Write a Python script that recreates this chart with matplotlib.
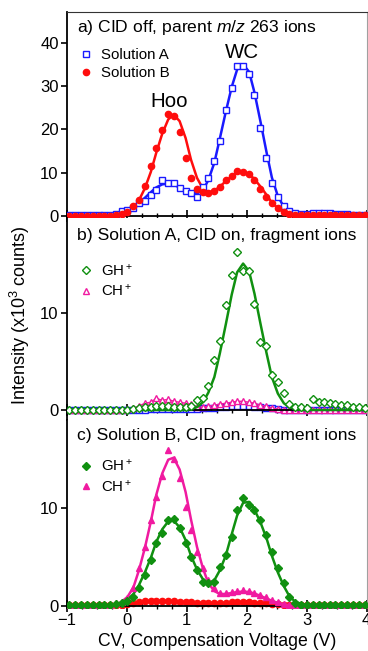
import numpy as np
import matplotlib
matplotlib.use("Agg")
import matplotlib.pyplot as plt
from matplotlib.ticker import MultipleLocator
from matplotlib.lines import Line2D

plt.rcParams["font.family"] = ["Liberation Sans", "DejaVu Sans"]
plt.rcParams["mathtext.fontset"] = "custom"
plt.rcParams["mathtext.rm"] = "Liberation Sans"
plt.rcParams["mathtext.it"] = "Liberation Sans:italic"

# CV scan (V)
cv = [-0.96, -0.86, -0.76, -0.67, -0.57, -0.47, -0.38, -0.28, -0.18, -0.09,
      0.01, 0.11, 0.20, 0.30, 0.40, 0.49, 0.59, 0.69, 0.78, 0.88,
      0.98, 1.07, 1.17, 1.27, 1.36, 1.46, 1.55, 1.65, 1.75, 1.84,
      1.94, 2.04, 2.13, 2.23, 2.33, 2.42, 2.52, 2.62, 2.71, 2.81,
      2.91, 3.00, 3.10, 3.20, 3.29, 3.39, 3.48, 3.58, 3.68, 3.77,
      3.87, 3.97]

# a) CID off, parent m/z 263 (x10^3 counts)
solA = [0.2, 0.2, 0.2, 0.2, 0.2, 0.2, 0.2, 0.3, 0.5, 1.1,
        1.4, 1.9, 2.9, 3.5, 4.8, 6.0, 8.3, 7.6, 7.6, 6.5,
        5.8, 5.4, 4.5, 6.8, 8.8, 12.7, 17.3, 24.4, 29.5, 34.6,
        34.6, 32.7, 28.0, 20.4, 13.5, 7.7, 4.5, 2.3, 1.2, 0.7,
        0.5, 0.5, 0.6, 0.7, 0.7, 0.6, 0.5, 0.5, 0.4, 0.3,
        0.3, 0.3]
solA_fit = [0, 0, 0, 0, 0, 0, 0, 0, 0.2, 0.5,
            1.0, 1.8, 2.9, 4.2, 5.5, 6.6, 7.3, 7.5, 7.2, 6.6,
            5.9, 5.3, 5.2, 6.0, 8.3, 12.3, 17.8, 24.0, 29.8, 33.8,
            35.0, 33.3, 28.5, 21.8, 14.8, 8.9, 4.6, 2.1, 0.8, 0.3,
            0.1, 0, 0, 0, 0, 0, 0, 0, 0, 0,
            0, 0]
solB = [0.1, 0.1, 0.1, 0.1, 0.1, 0.1, 0.1, 0.1, 0.2, 0.5,
        1.0, 2.2, 3.8, 7.0, 11.5, 15.8, 19.8, 23.5, 23.0, 19.5,
        13.5, 8.8, 6.2, 5.6, 5.3, 5.8, 6.8, 8.2, 9.3, 10.3,
        10.2, 9.8, 8.4, 6.2, 4.5, 3.0, 1.8, 0.9, 0.4, 0.2,
        0.2, 0.2, 0.2, 0.2, 0.2, 0.2, 0.2, 0.2, 0.2, 0.2,
        0.2, 0.2]
solB_fit = [0, 0, 0, 0, 0, 0, 0, 0, 0.1, 0.3,
            0.8, 1.8, 3.6, 6.4, 10.2, 14.6, 19.0, 22.3, 23.4, 21.9,
            18.0, 13.0, 8.8, 6.3, 5.5, 5.8, 6.8, 8.0, 9.2, 10.0,
            10.2, 9.7, 8.5, 6.8, 4.9, 3.1, 1.8, 0.9, 0.4, 0.2,
            0.1, 0, 0, 0, 0, 0, 0, 0, 0, 0,
            0, 0]

# b) Solution A, CID on
gh_a = [0, 0, 0, 0, 0, 0, 0, 0, 0, 0,
        0.05, 0.15, 0.2, 0.3, 0.35, 0.4, 0.4, 0.4, 0.35, 0.35,
        0.3, 0.4, 1.0, 1.2, 2.5, 5.2, 7.1, 10.8, 13.9, 16.3,
        14.3, 14.3, 10.9, 7.0, 6.6, 3.6, 2.9, 1.8, 0.6, 0.3,
        0.3, 0.2, 1.1, 0.8, 0.8, 0.75, 0.6, 0.5, 0.55, 0.35,
        0.3, 0.2]
gh_a_fit = [0, 0, 0, 0, 0, 0, 0, 0, 0, 0,
            0, 0, 0, 0, 0, 0, 0, 0, 0, 0,
            0, 0.1, 0.3, 0.8, 1.8, 3.4, 5.8, 8.8, 11.9, 14.2,
            15.1, 14.3, 12.0, 8.9, 5.9, 3.4, 1.7, 0.7, 0.3, 0.1,
            0, 0, 0, 0, 0, 0, 0, 0, 0, 0,
            0, 0]
ch_a = [0.05, 0.05, 0.05, 0.05, 0.05, 0.05, 0.05, 0.05, 0.05, 0.05,
        0.1, 0.2, 0.4, 0.7, 0.8, 1.2, 1.0, 1.1, 0.9, 0.8,
        0.7, 0.6, 0.3, 0.3, 0.4, 0.5, 0.6, 0.7, 0.8, 0.9,
        0.9, 0.8, 0.7, 0.5, 0.4, 0.2, 0.1, 0.05, 0.05, 0.05,
        0.05, 0.05, 0.05, 0.05, 0.05, 0.05, 0.05, 0.05, 0.05, 0.05,
        0.05, 0.05]
par_a = [0.05, 0.05, 0.05, 0.05, 0.05, 0.05, 0.05, 0.05, 0.05, 0.05,
         0.05, 0.05, 0.05, 0.05, 0.1, 0.1, 0.1, 0.1, 0.1, 0.1,
         0.1, 0.1, 0.15, 0.2, 0.2, 0.25, 0.3, 0.35, 0.4, 0.45,
         0.45, 0.4, 0.35, 0.3, 0.25, 0.2, 0.15, 0.05, 0.05, 0.05,
         0.05, 0.05, 0.05, 0.05, 0.05, 0.05, 0.05, 0.05, 0.05, 0.05,
         0.05, 0.05]

# c) Solution B, CID on
gh_b = [0.1, 0.1, 0.1, 0.1, 0.1, 0.1, 0.1, 0.1, 0.2, 0.3,
        0.5, 0.9, 1.8, 3.1, 4.7, 6.4, 7.4, 8.7, 8.8, 7.9,
        6.4, 5.0, 3.6, 2.4, 2.3, 2.4, 4.0, 5.2, 7.0, 9.8,
        11.0, 10.3, 9.8, 8.7, 7.2, 5.5, 3.8, 2.3, 0.9, 0.3,
        0.1, 0.1, 0.1, 0.1, 0.1, 0.1, 0.1, 0.1, 0.1, 0.1,
        0.1, 0.1]
gh_b_fit = [0, 0, 0, 0, 0, 0, 0, 0, 0.1, 0.2,
            0.6, 1.2, 2.1, 3.4, 4.9, 6.5, 7.8, 8.6, 8.7, 8.0,
            6.7, 5.1, 3.7, 2.7, 2.3, 2.6, 3.6, 5.1, 7.3, 9.2,
            10.5, 10.6, 9.8, 8.5, 6.9, 5.1, 3.4, 2.0, 1.0, 0.4,
            0.2, 0.1, 0.1, 0.1, 0.1, 0.1, 0.1, 0.1, 0.1, 0.1,
            0.1, 0.1]
ch_b = [0.05, 0.05, 0.05, 0.05, 0.05, 0.05, 0.05, 0.05, 0.25, 0.4,
        0.75, 1.8, 3.8, 6.0, 8.7, 11.1, 13.2, 15.9, 15.0, 13.0,
        10.1, 7.7, 5.5, 3.8, 2.6, 1.8, 1.3, 1.3, 1.4, 1.5,
        1.6, 1.5, 1.3, 1.1, 0.9, 0.6, 0.4, 0.2, 0.1, 0.1,
        0.1, 0.1, 0.1, 0.1, 0.1, 0.1, 0.1, 0.1, 0.1, 0.1,
        0.1, 0.1]
ch_b_fit = [0, 0, 0, 0, 0, 0, 0, 0, 0.1, 0.4,
            0.9, 1.9, 3.6, 5.9, 8.6, 11.3, 13.5, 14.9, 15.1, 13.9,
            11.6, 8.8, 6.0, 3.8, 2.3, 1.5, 1.2, 1.2, 1.3, 1.4,
            1.45, 1.4, 1.25, 1.0, 0.75, 0.5, 0.3, 0.15, 0.05, 0,
            0, 0, 0, 0, 0, 0, 0, 0, 0, 0,
            0, 0]
par_b = [0.05, 0.05, 0.05, 0.05, 0.05, 0.05, 0.05, 0.05, 0.05, 0.05,
         0.2, 0.3, 0.4, 0.45, 0.5, 0.5, 0.5, 0.5, 0.45, 0.4,
         0.35, 0.35, 0.3, 0.25, 0.25, 0.25, 0.3, 0.3, 0.35, 0.35,
         0.35, 0.35, 0.3, 0.3, 0.25, 0.2, 0.15, 0.1, 0.1, 0.1,
         0.1, 0.1, 0.1, 0.1, 0.1, 0.1, 0.1, 0.1, 0.1, 0.1,
         0.1, 0.1]

BLUE, RED, GREEN, PINK = "#1a1aff", "#ff0d0d", "#109010", "#f01aa0"
W, H = 368, 651

fig = plt.figure(figsize=(W / 100, H / 100), dpi=100)


def make_ax(top, bottom, ylim):
    ax = fig.add_axes([67 / W, 1 - bottom / H, (366.5 - 67) / W, (bottom - top) / H])
    ax.set_xlim(-1, 4)
    ax.set_ylim(*ylim)
    ax.spines["bottom"].set_position(("data", 0))
    ax.spines["bottom"].set_linewidth(1.3)
    ax.spines["left"].set_linewidth(1.3)
    ax.spines["top"].set_visible(False)
    ax.spines["right"].set_color("#a0a0a0")
    ax.spines["right"].set_linewidth(0.8)
    ax.xaxis.set_major_locator(MultipleLocator(1))
    ax.xaxis.set_minor_locator(MultipleLocator(0.25))
    ax.tick_params(axis="x", which="major", direction="inout", length=8, width=1.2,
                   labelsize=12, pad=1)
    ax.tick_params(axis="x", which="minor", direction="inout", length=5, width=1)
    ax.tick_params(axis="y", which="major", direction="out", length=4, width=1.2,
                   labelsize=12, pad=2)
    return ax


ax_a = make_ax(12, 218, (-0.46, 47.1))
ax_b = make_ax(218, 420, (-1.03, 19.8))
ax_c = make_ax(420, 608, (-0.23, 18.95))
ax_a.spines["top"].set_visible(True)
ax_a.spines["top"].set_color("#333333")
ax_a.set_yticks([0, 10, 20, 30, 40])
ax_b.set_yticks([0, 10])
ax_c.set_yticks([0, 10])
ax_a.tick_params(axis="x", labelbottom=False)
ax_b.tick_params(axis="x", labelbottom=False)

ms = 4.5
legkw = dict(loc="upper left", frameon=False, fontsize=10.8, handlelength=1.0,
             handletextpad=0.5, labelspacing=0.3, borderaxespad=0)

# panel a
ax_a.plot(cv, solA_fit, color=BLUE, lw=1.8, zorder=2)
ax_a.plot(cv, solB_fit, color=RED, lw=1.8, zorder=2)
ax_a.plot(cv, solA, "s", ms=ms, mfc="white", mec=BLUE, mew=1, zorder=3)
ax_a.plot(cv, solB, "o", ms=ms, color=RED, zorder=3)
leg_a = [Line2D([], [], ls="", marker="s", ms=ms, mfc="white", mec=BLUE, mew=1),
         Line2D([], [], ls="", marker="o", ms=ms, color=RED)]
ax_a.legend(leg_a, ["Solution A", "Solution B"], bbox_to_anchor=(0.02, 0.855), **legkw)
ax_a.text(0.035, 0.925, "a) CID off, parent $m/z$ 263 ions", transform=ax_a.transAxes,
          fontsize=12.6, va="center")
ax_a.text(0.7, 24.2, "Hoo", fontsize=14.8, ha="center", va="bottom")
ax_a.text(1.92, 35.6, "WC", fontsize=14.8, ha="center", va="bottom")

# panel b
ax_b.plot(cv, par_a, "s-", ms=ms, mfc="white", mec=BLUE, mew=1, color=BLUE, lw=1.2, zorder=2)
ax_b.plot(cv, ch_a, "^-", ms=ms, mfc="white", mec=PINK, mew=1, color=PINK, lw=1, zorder=2)
ax_b.plot(cv, gh_a_fit, color=GREEN, lw=1.8, zorder=3)
ax_b.plot(cv, gh_a, "D", ms=ms - 0.5, mfc="white", mec=GREEN, mew=1, zorder=4)
leg_b = [Line2D([], [], ls="", marker="D", ms=ms - 0.5, mfc="white", mec=GREEN, mew=1),
         Line2D([], [], ls="", marker="^", ms=ms, mfc="white", mec=PINK, mew=1)]
ax_b.legend(leg_b, ["GH$^+$", "CH$^+$"], bbox_to_anchor=(0.02, 0.81), **legkw)
ax_b.text(0.035, 0.915, "b) Solution A, CID on, fragment ions", transform=ax_b.transAxes,
          fontsize=12.6, va="center")

# panel c
ax_c.plot(cv, par_b, "o", ms=ms, color=RED, zorder=2)
ax_c.plot(cv, ch_b_fit, color=PINK, lw=1.8, zorder=3)
ax_c.plot(cv, gh_b_fit, color=GREEN, lw=1.8, zorder=3)
ax_c.plot(cv, ch_b, "^", ms=ms, color=PINK, zorder=4)
ax_c.plot(cv, gh_b, "D", ms=ms - 0.5, color=GREEN, zorder=4)
leg_c = [Line2D([], [], ls="", marker="D", ms=ms - 0.5, color=GREEN),
         Line2D([], [], ls="", marker="^", ms=ms, color=PINK)]
ax_c.legend(leg_c, ["GH$^+$", "CH$^+$"], bbox_to_anchor=(0.02, 0.83), **legkw)
ax_c.text(0.035, 0.92, "c) Solution B, CID on, fragment ions", transform=ax_c.transAxes,
          fontsize=12.6, va="center")

fig.text(20 / W, 1 - 315 / H, "Intensity (x10$^3$ counts)", rotation=90,
         fontsize=13, ha="center", va="center")
fig.text(217 / W, 1 - 642 / H, "CV, Compensation Voltage (V)", fontsize=12.7,
         ha="center", va="center")

fig.savefig("out.png", dpi=100)
